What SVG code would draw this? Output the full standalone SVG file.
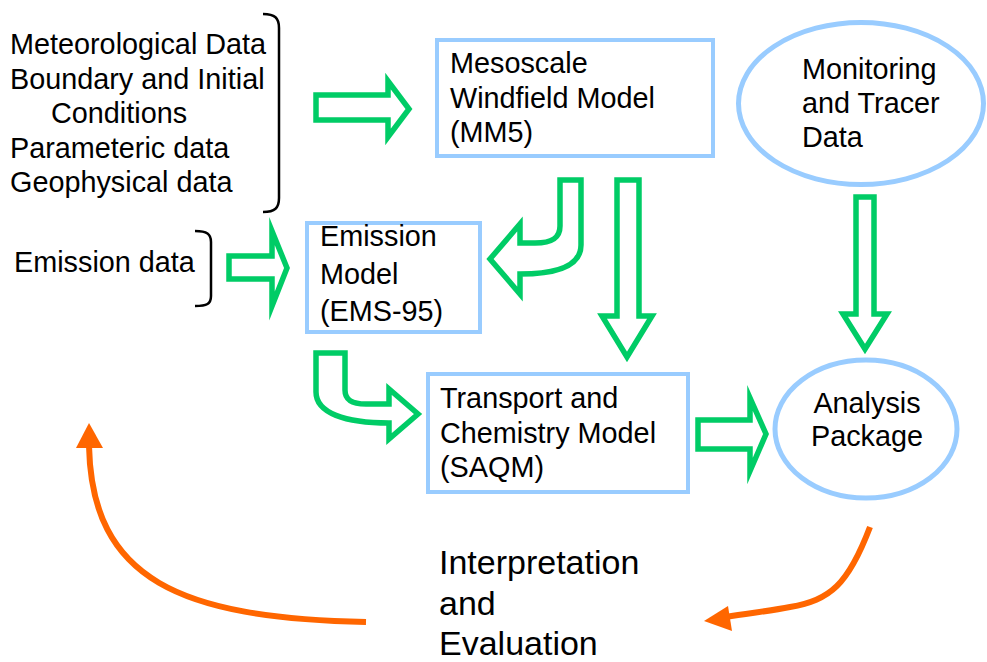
<svg xmlns="http://www.w3.org/2000/svg" width="987" height="662" viewBox="0 0 987 662">
  <style>
    text { font-family: "Liberation Sans", Arial, sans-serif; font-size: 28.8px; fill: #000; }
    .big { font-size: 34px; }
    .box { fill: #fff; stroke: #99CCFF; stroke-width: 4; }
    .oval { fill: #fff; stroke: #99CCFF; stroke-width: 5; }
    .flow { fill: #fff; stroke: #00CC66; stroke-width: 5.5; stroke-linejoin: miter; stroke-miterlimit: 10; }
    .brace { fill: none; stroke: #000; stroke-width: 2.5; }
    .loop { fill: none; stroke: #FF6600; stroke-width: 6; }
    .loophead { fill: #FF6600; }
  </style>

  <rect width="987" height="662" fill="#fff"/>

  <!-- input data lists with braces -->
  <g id="inputs">
    <text x="10" y="54">Meteorological Data</text>
    <text x="10" y="88.5">Boundary and Initial</text>
    <text x="51" y="123">Conditions</text>
    <text x="10" y="157.5">Parameteric data</text>
    <text x="10" y="192">Geophysical data</text>
    <path class="brace" d="M263,14 C275,14 279,18 279,28 L279,198 C279,208 275,212 263,212"/>
  </g>
  <g id="emission-data">
    <text x="14" y="272">Emission data</text>
    <path class="brace" d="M195,231 C207,231 211,234 211,242 L211,296 C211,304 207,306 195,306"/>
  </g>

  <!-- model nodes -->
  <g id="mm5">
    <rect class="box" x="437" y="40" width="276" height="116"/>
    <text x="450" y="73">Mesoscale</text>
    <text x="450" y="108">Windfield Model</text>
    <text x="450" y="142">(MM5)</text>
  </g>
  <g id="ems95">
    <rect class="box" x="307" y="223" width="173" height="109"/>
    <text x="320" y="246">Emission</text>
    <text x="320" y="284">Model</text>
    <text x="320" y="321">(EMS-95)</text>
  </g>
  <g id="saqm">
    <rect class="box" x="428" y="374" width="260" height="118"/>
    <text x="440" y="408">Transport and</text>
    <text x="440" y="443">Chemistry Model</text>
    <text x="440" y="477">(SAQM)</text>
  </g>
  <g id="monitoring">
    <ellipse class="oval" cx="861" cy="103.5" rx="122.5" ry="81"/>
    <text x="802" y="79">Monitoring</text>
    <text x="802" y="113">and Tracer</text>
    <text x="802" y="147">Data</text>
  </g>
  <g id="analysis">
    <ellipse class="oval" cx="866" cy="429" rx="91" ry="69"/>
    <text x="867" y="413" text-anchor="middle">Analysis</text>
    <text x="867" y="446" text-anchor="middle">Package</text>
  </g>
  <g id="interpretation">
    <text class="big" x="439" y="574">Interpretation</text>
    <text class="big" x="439" y="615">and</text>
    <text class="big" x="439" y="655">Evaluation</text>
  </g>

  <!-- connectors -->
  <g id="connectors">
    <polygon class="flow" points="316,95 388,95 388,81 409,109 388,137 388,120 316,120"/>
    <polygon class="flow" points="229,256 272,256 272,231 287,268 272,306 272,279 229,279"/>
    <polygon class="flow" points="617,180 639,180 639,316 652,316 627,357 602,316 617,316"/>
    <polygon class="flow" points="698,420 750,420 750,398 766,434 750,471 750,449 698,449"/>
    <polygon class="flow" points="856,197 874,197 874,314 887,314 865,349 843,314 856,314"/>
    <path class="flow" d="M560,180 L581,180 L581,245 C581,264 562,274 520,274 L520,294 L490,259 L520,224 L520,243 L535,243 C552,243 560,238 560,226 Z"/>
    <path class="flow" d="M316,353 L345,353 L345,390 C345,400 352,404 366,404 L389,404 L389,389 L418,414 L389,439 L389,423 C345,423 316,413 316,392 Z"/>

    <path class="loop" d="M366,622 C180,618 92,580 89,446"/>
    <polygon class="loophead" points="89,423 103,448 76,448"/>
    <path class="loop" d="M870,527 C848,585 830,600 790,607 C770,611 750,613 726,617"/>
    <polygon class="loophead" points="704,621 728,606 732,631"/>
  </g>
</svg>
